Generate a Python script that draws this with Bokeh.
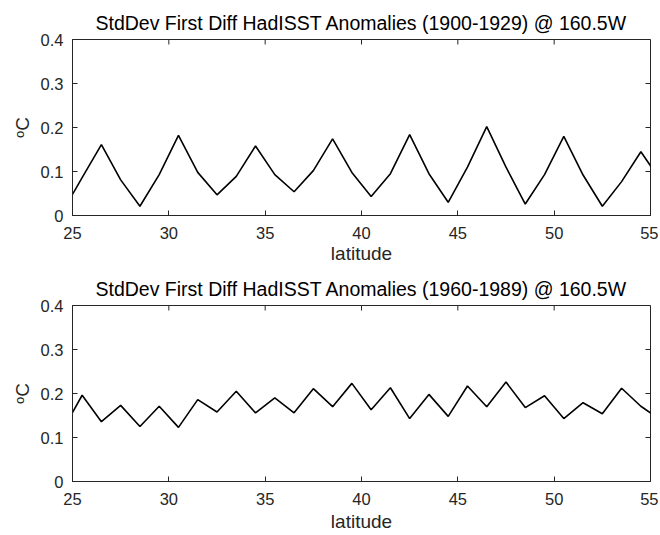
import math
from bokeh.plotting import figure
from bokeh.models import Range1d, FixedTicker
from bokeh.layouts import column
from bokeh.embed import file_html
from bokeh.resources import INLINE

latitude = [24.5, 25.5, 26.5, 27.5, 28.5, 29.5, 30.5, 31.5, 32.5, 33.5, 34.5,
            35.5, 36.5, 37.5, 38.5, 39.5, 40.5, 41.5, 42.5, 43.5, 44.5, 45.5,
            46.5, 47.5, 48.5, 49.5, 50.5, 51.5, 52.5, 53.5, 54.5, 55.5]
sd_1900_1929 = [0.010, 0.086, 0.161, 0.081, 0.021, 0.093, 0.182, 0.098, 0.047,
                0.089, 0.158, 0.093, 0.054, 0.102, 0.174, 0.098, 0.043, 0.095,
                0.184, 0.095, 0.030, 0.110, 0.202, 0.110, 0.026, 0.093, 0.180,
                0.092, 0.021, 0.077, 0.145, 0.081]
sd_1960_1989 = [0.118, 0.196, 0.136, 0.173, 0.125, 0.171, 0.123, 0.186, 0.158,
                0.205, 0.156, 0.190, 0.156, 0.211, 0.170, 0.223, 0.163, 0.213,
                0.143, 0.198, 0.148, 0.217, 0.170, 0.226, 0.168, 0.195, 0.143,
                0.179, 0.154, 0.212, 0.171, 0.141]
x_ticks = [25, 30, 35, 40, 45, 50, 55]
y_ticks = [0, 0.1, 0.2, 0.3, 0.4]
y_tick_labels = ["0", "0.1", "0.2", "0.3", "0.4"]
titles = ["StdDev First Diff HadISST Anomalies (1900-1929) @ 160.5W",
          "StdDev First Diff HadISST Anomalies (1960-1989) @ 160.5W"]

FONT = "Liberation Sans"
AX = "#262626"
X0, X1 = x_ticks[0], x_ticks[-1]
Y0, Y1 = y_ticks[0], y_ticks[-1]


def make(title, yvals, top, bottom, label_standoff):
    p = figure(frame_width=578, frame_height=176, output_backend="svg",
               toolbar_location=None, x_range=Range1d(X0, X1),
               y_range=Range1d(Y0, Y1), min_border_left=72,
               min_border_right=8, min_border_top=top,
               min_border_bottom=bottom, title=title)
    p.title.text_font = FONT
    p.title.text_font_size = "19.5px"
    p.title.text_font_style = "normal"
    p.title.align = "center"
    p.title.text_color = "black"
    p.title.standoff = 11
    p.grid.visible = False
    p.outline_line_color = AX
    p.outline_line_width = 1
    p.background_fill_color = "white"
    p.border_fill_color = "white"
    p.line(latitude, yvals, line_color="black", line_width=1.6)

    # inward ticks on the right and top edges of the box
    p.ray(x=[X1] * len(y_ticks), y=y_ticks, length=5, length_units="screen",
          angle=math.pi, line_color=AX, line_width=1)
    p.ray(x=x_ticks, y=[Y1] * len(x_ticks), length=5, length_units="screen",
          angle=-math.pi / 2, line_color=AX, line_width=1)

    for ax in p.xaxis:
        ax.ticker = FixedTicker(ticks=x_ticks)
        ax.axis_label = "latitude"
        ax.major_label_standoff = 11
        ax.axis_label_standoff = label_standoff
    for ax in p.yaxis:
        ax.ticker = FixedTicker(ticks=y_ticks)
        ax.major_label_overrides = {t: l for t, l in zip(y_ticks, y_tick_labels)}
        ax.axis_label = "\u1d52C"
        ax.major_label_standoff = 9
        ax.axis_label_standoff = 5
    for ax in list(p.xaxis) + list(p.yaxis):
        ax.axis_line_color = AX
        ax.major_tick_line_color = AX
        ax.major_tick_in = 5
        ax.major_tick_out = 0
        ax.minor_tick_line_color = None
        ax.major_label_text_font = FONT
        ax.major_label_text_font_size = "16.5px"
        ax.major_label_text_color = AX
        ax.axis_label_text_font = FONT
        ax.axis_label_text_font_size = "19px"
        ax.axis_label_text_font_style = "normal"
        ax.axis_label_text_color = AX
    return p


p1 = make(titles[0], sd_1900_1929, 39, 55, 1)
p2 = make(titles[1], sd_1960_1989, 35, 54, 3)
layout = column(p1, p2, spacing=0)

open("out.html", "w").write(file_html(layout, INLINE))
